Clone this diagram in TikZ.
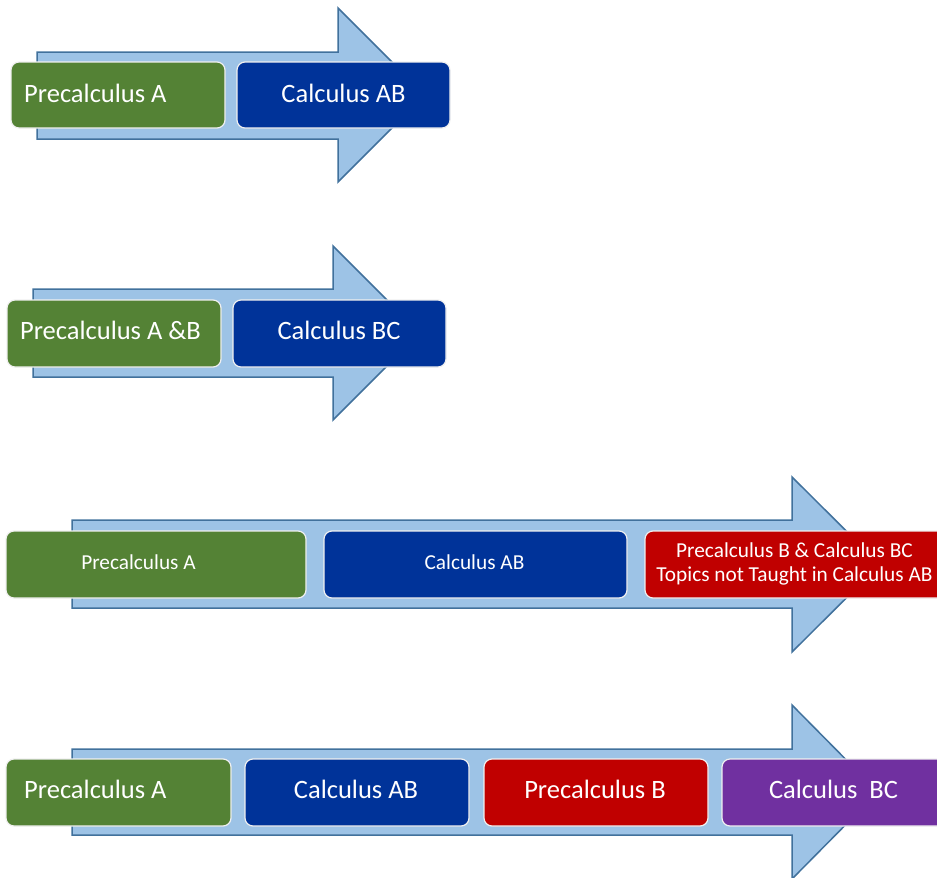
\documentclass[tikz,border=0pt]{standalone}
\usepackage{fontspec}
\setmainfont{Carlito}
\definecolor{shaftfill}{HTML}{9DC3E6}
\definecolor{shaftline}{HTML}{41719C}
\definecolor{pgreen}{HTML}{548235}
\definecolor{pblue}{HTML}{003399}
\definecolor{pred}{HTML}{C00000}
\definecolor{ppurple}{HTML}{7030A0}
\tikzset{
 flow/.style={fill=shaftfill, draw=shaftline, line width=1.5pt, line join=miter},
 card/.style={rounded corners=8pt, draw=white!88!gray, line width=1.2pt, inner sep=0pt},
 bigtxt/.style={text=white, font=\fontsize{26.5}{30}\selectfont, inner sep=0pt, anchor=base},
 smalltxt/.style={text=white, font=\fontsize{21.3}{24}\selectfont, inner sep=0pt, anchor=base, align=center},
}
\begin{document}
\begin{tikzpicture}[x=1pt,y=-1pt]
\useasboundingbox (0,0) rectangle (937,878);
\clip (0,0) rectangle (937,878);
% Arrow 1
\draw[flow] (37,52) -- (338,52) -- (338,8) -- (425,95) -- (338,182) -- (338,139) -- (37,139) -- cycle;
\node[card, fill=pgreen, minimum width=214pt, minimum height=66pt] (g1) at (118,95) {};
\node[card, fill=pblue, minimum width=213pt, minimum height=66pt] (b1) at (343.5,95) {};
\node[bigtxt, anchor=base west] (tg1) at (24,102) {Precalculus A};
\node[bigtxt] (tb1) at (343.5,102) {Calculus AB};
% Arrow 2
\draw[flow] (33,289) -- (333,289) -- (333,246) -- (420,333) -- (333,420) -- (333,377) -- (33,377) -- cycle;
\node[card, fill=pgreen, minimum width=214pt, minimum height=67pt] (g2) at (114,333.5) {};
\node[card, fill=pblue, minimum width=213pt, minimum height=67pt] (b2) at (339.5,333.5) {};
\node[bigtxt] (tg2) at (110.5,339) {Precalculus A \&B};
\node[bigtxt] (tb2) at (339,339) {Calculus BC};
% Arrow 3
\draw[flow] (72,520) -- (792,520) -- (792,477) -- (880,564.5) -- (792,652) -- (792,608) -- (72,608) -- cycle;
\node[card, fill=pgreen, minimum width=300pt, minimum height=67pt] (g3) at (156,564.5) {};
\node[card, fill=pblue, minimum width=303pt, minimum height=67pt] (b3) at (475.5,564.5) {};
\node[card, fill=pred, minimum width=305pt, minimum height=67pt] (r3) at (797.5,564.5) {};
\node[smalltxt] (tg3) at (138.5,569) {Precalculus A};
\node[smalltxt] (tb3) at (474.5,569) {Calculus AB};
\node[smalltxt] (tr3) at (794.5,581) {Precalculus B \& Calculus BC\\Topics not Taught in Calculus AB};
% Arrow 4
\draw[flow] (72,749) -- (792,749) -- (792,705) -- (878,792) -- (792,879) -- (792,835) -- (72,835) -- cycle;
\node[card, fill=pgreen, minimum width=225pt, minimum height=67pt] (g4) at (118.5,792.5) {};
\node[card, fill=pblue, minimum width=224pt, minimum height=67pt] (b4) at (357,792.5) {};
\node[card, fill=pred, minimum width=224pt, minimum height=67pt] (r4) at (596,792.5) {};
\node[card, fill=ppurple, minimum width=228pt, minimum height=67pt] (p4) at (836,792.5) {};
\node[bigtxt, anchor=base west] (tg4) at (24,798) {Precalculus A};
\node[bigtxt] (tb4) at (356,798) {Calculus AB};
\node[bigtxt] (tr4) at (595,798) {Precalculus B};
\node[bigtxt] (tp4) at (833.5,798) {Calculus\ \ BC};
\end{tikzpicture}
\end{document}
